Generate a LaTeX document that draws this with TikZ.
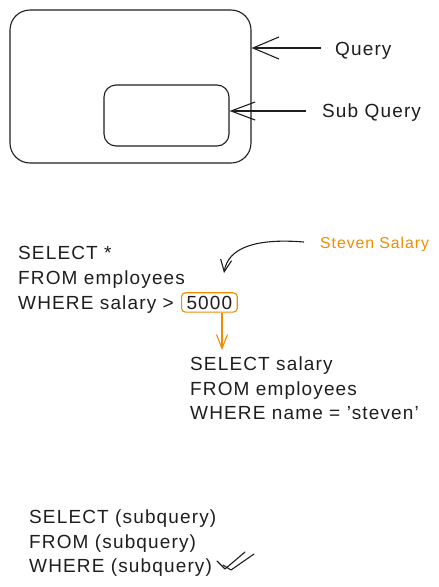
\documentclass[tikz,border=0pt]{standalone}
\usepackage{fontspec}
\setmainfont{Liberation Sans}[LetterSpace=6]
\usetikzlibrary{arrows.meta}
\definecolor{ink}{HTML}{1E1E1E}
\definecolor{exorange}{HTML}{F08C00}
\begin{document}
\begin{tikzpicture}[x=1pt,y=-1pt,
  txt/.style={anchor=base west,inner sep=0pt,text=ink,font=\fontsize{19}{19}\selectfont},
  otxt/.style={txt,text=exorange,font=\fontsize{15.8}{15.8}\selectfont},
  box/.style={draw=ink,line width=1.1pt},
  arr/.style={draw=ink,line width=1.1pt},
]
\useasboundingbox (0,0) rectangle (439,587);
% top boxes
\node[box,rounded corners=20pt,minimum width=241pt,minimum height=153pt,inner sep=0pt] (outer) at (130.5,86.5) {};
\node[box,rounded corners=12pt,minimum width=125pt,minimum height=61pt,inner sep=0pt] (inner) at (166.5,115.5) {};
\node[txt] (q) at (335,55) {Query};
\node[txt] (sq) at (322,117) {Sub Query};
\coordinate (qs) at (321,48);
\coordinate (sqs) at (306,111);
\draw[arr,-{Straight Barb[length=26pt,width=22pt]}] (qs) -- (outer.east |- qs);
\draw[arr,-{Straight Barb[length=24pt,width=18pt]}] (sqs) -- (inner.east |- sqs);
% query 1
\node[txt] (l1) at (18,259) {SELECT *};
\node[txt] (l2) at (18,284) {FROM employees};
\node[txt] (l3) at (18,309) {WHERE salary >};
\node[txt,anchor=base west,draw=exorange,line width=1.1pt,rounded corners=4pt,inner xsep=5pt,inner ysep=3pt] (v) at (181,309) {5000};
\node[otxt] (ss) at (320,248) {Steven Salary};
\coordinate (cs) at (304,242);
\coordinate (ce) at (224,273);
\draw[arr,-{Straight Barb[length=12pt,width=11pt]}] (cs) .. controls (255,238) and (228,248) .. (ce);
% query 2
\node[txt] (m1) at (190,370) {SELECT salary};
\node[txt] (m2) at (190,395) {FROM employees};
\node[txt] (m3) at (190,419) {WHERE name = 'steven'};
\coordinate (oe) at (222,350);
\draw[draw=exorange,line width=1.1pt,-{Straight Barb[length=14pt,width=11pt]}] (v.south -| oe) -- (oe);
% query 3
\node[txt] (n1) at (29,523) {SELECT (subquery)};
\node[txt] (n2) at (29,548) {FROM (subquery)};
\node[txt] (n3) at (29,572) {WHERE (subquery)};
\draw[arr,line cap=round,line join=round] (217,561) -- (225,569) -- (245,552);
\draw[arr,line cap=round,line join=round] (223,565) -- (231,570) -- (254,554);
\end{tikzpicture}
\end{document}
